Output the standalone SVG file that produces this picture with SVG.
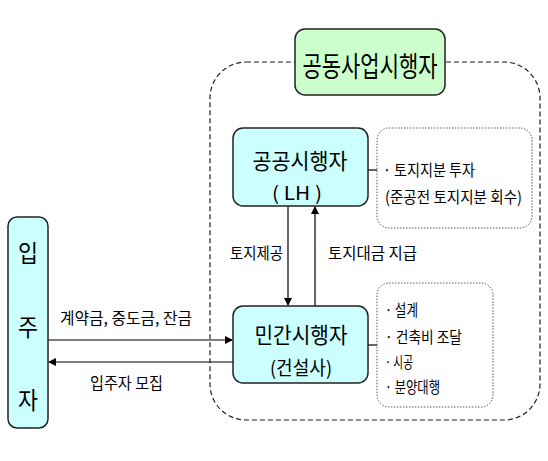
<svg xmlns="http://www.w3.org/2000/svg" width="548" height="461" viewBox="0 0 548 461">
<style>
text{font-family:"Noto Sans CJK KR","Noto Sans",sans-serif;fill:#000;}
.box{fill:#ccffff;stroke:#222;stroke-width:1.5;}
.title{fill:#ccffcc;stroke:#222;stroke-width:1.5;}
.dash{fill:none;stroke:#222;stroke-width:1.2;stroke-dasharray:5,3;}
.dot{fill:#fff;stroke:#555;stroke-width:1;stroke-dasharray:1.5,1.5;}
.ln{fill:none;stroke:#000;stroke-width:1.2;}
.mid{font-size:16px;}
</style>
<defs>
<marker id="ah" markerWidth="8" markerHeight="8" refX="7" refY="4" orient="auto" markerUnits="userSpaceOnUse">
<path d="M0,0 L8,4 L0,8 z" fill="#000"/>
</marker>
</defs>
<rect x="0" y="0" width="548" height="461" fill="#fff"/>
<g id="group-boundary">
<rect class="dash" x="210" y="62" width="330" height="358" rx="36"/>
</g>
<g id="title">
<rect class="title" x="295" y="29" width="150" height="66" rx="10"/>
<text x="370" y="77" text-anchor="middle" font-size="28" textLength="135" lengthAdjust="spacingAndGlyphs">공동사업시행자</text>
</g>
<g id="connectors">
<line class="ln" x1="288" y1="206" x2="288" y2="305" marker-end="url(#ah)"/>
<line class="ln" x1="315" y1="306" x2="315" y2="207" marker-end="url(#ah)"/>
<line class="ln" x1="48" y1="340" x2="232" y2="340" marker-end="url(#ah)"/>
<line class="ln" x1="233" y1="362" x2="49" y2="362" marker-end="url(#ah)"/>
<line class="ln" x1="368" y1="170" x2="377" y2="170"/>
<line class="ln" x1="368" y1="345" x2="377" y2="345"/>
<text class="mid" x="230" y="259" textLength="53" lengthAdjust="spacingAndGlyphs">토지제공</text>
<text class="mid" x="328" y="259" textLength="89" lengthAdjust="spacingAndGlyphs">토지대금 지급</text>
<text class="mid" x="60" y="324" textLength="132" lengthAdjust="spacingAndGlyphs">계약금, 중도금, 잔금</text>
<text class="mid" x="90" y="389" textLength="73" lengthAdjust="spacingAndGlyphs">입주자 모집</text>
</g>
<g id="public">
<rect class="box" x="233" y="128" width="135" height="78" rx="10"/>
<text x="300" y="169" text-anchor="middle" font-size="22" textLength="95" lengthAdjust="spacingAndGlyphs">공공시행자</text>
<text x="297" y="200" text-anchor="middle" font-size="19" textLength="50" lengthAdjust="spacingAndGlyphs">( LH )</text>
</g>
<g id="public-note">
<rect class="dot" x="377" y="128" width="155" height="100" rx="12"/>
<text class="mid" x="383" y="176" textLength="92" lengthAdjust="spacingAndGlyphs">· 토지지분 투자</text>
<text class="mid" x="385" y="203" textLength="137" lengthAdjust="spacingAndGlyphs">(준공전 토지지분 회수)</text>
</g>
<g id="private">
<rect class="box" x="233" y="306" width="135" height="77" rx="10"/>
<text x="301" y="343" text-anchor="middle" font-size="22" textLength="93" lengthAdjust="spacingAndGlyphs">민간시행자</text>
<text x="301" y="375" text-anchor="middle" font-size="19" textLength="62" lengthAdjust="spacingAndGlyphs">(건설사)</text>
</g>
<g id="private-note">
<rect class="dot" x="377" y="283" width="116" height="124" rx="12"/>
<text class="mid" x="385" y="316" textLength="33" lengthAdjust="spacingAndGlyphs">· 설계</text>
<text class="mid" x="385" y="343" textLength="77" lengthAdjust="spacingAndGlyphs">· 건축비 조달</text>
<text class="mid" x="385" y="368" textLength="28" lengthAdjust="spacingAndGlyphs">· 시공</text>
<text class="mid" x="385" y="393" textLength="55" lengthAdjust="spacingAndGlyphs">· 분양대행</text>
</g>
<g id="resident">
<rect class="box" x="8" y="217" width="40" height="211" rx="9"/>
<text x="28" y="262" text-anchor="middle" font-size="24" textLength="20" lengthAdjust="spacingAndGlyphs">입</text>
<text x="28" y="336" text-anchor="middle" font-size="24" textLength="20" lengthAdjust="spacingAndGlyphs">주</text>
<text x="28" y="409" text-anchor="middle" font-size="24" textLength="20" lengthAdjust="spacingAndGlyphs">자</text>
</g>
</svg>
